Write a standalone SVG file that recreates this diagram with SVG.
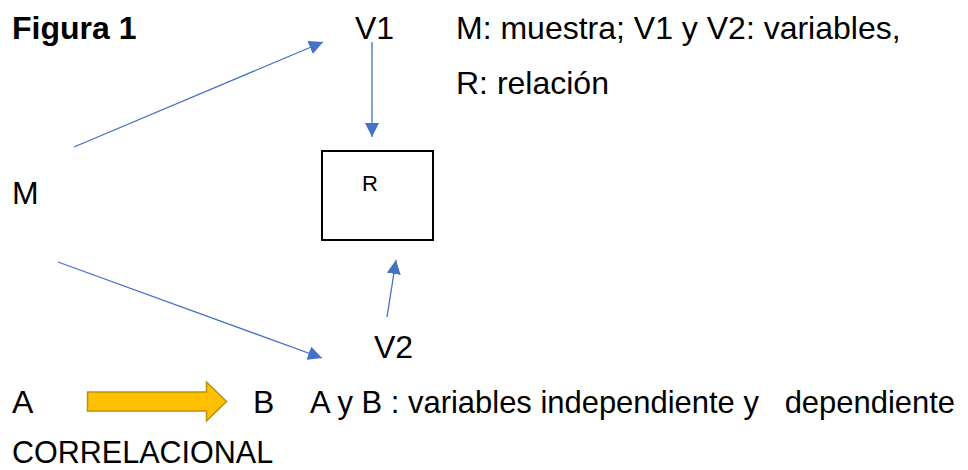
<svg xmlns="http://www.w3.org/2000/svg" width="968" height="470" viewBox="0 0 968 470">
<style>
.t{font-family:"Liberation Sans",Arial,sans-serif;font-size:32px;fill:#000}
.b{font-weight:bold}
.c{stroke:#4472C4;stroke-width:1.3;fill:none}
</style>
<defs>
<marker id="ah" viewBox="0 0 10 10" refX="10" refY="5" markerWidth="14" markerHeight="14" markerUnits="userSpaceOnUse" orient="auto">
<path d="M0,0 L10,5 L0,10 Z" fill="#4472C4"/>
</marker>
</defs>
<rect width="968" height="470" fill="#fff"/>
<g id="title"><text class="t b" x="12" y="39">Figura 1</text></g>
<g id="legend">
<text class="t" x="456" y="39">M: muestra; V1 y V2: variables,</text>
<text class="t" x="456" y="94">R: relación</text>
</g>
<g id="nodeV1"><text class="t" x="355" y="39">V1</text></g>
<g id="nodeM"><text class="t" x="12" y="204">M</text></g>
<g id="nodeR">
<rect x="322" y="151" width="111" height="89" fill="#fff" stroke="#000" stroke-width="2"/>
<text class="t" x="362" y="191" style="font-size:22px">R</text>
</g>
<g id="nodeV2"><text class="t" x="374" y="358">V2</text></g>
<g id="connectors">
<line class="c" x1="74" y1="147" x2="323" y2="42" marker-end="url(#ah)"/>
<line class="c" x1="372" y1="42" x2="372" y2="137" marker-end="url(#ah)"/>
<line class="c" x1="58" y1="262" x2="322" y2="358" marker-end="url(#ah)"/>
<line class="c" x1="387" y1="317" x2="396" y2="260" marker-end="url(#ah)"/>
</g>
<g id="bottom">
<text class="t" x="12" y="413">A</text>
<path d="M87.5,392 L206.5,392 L206.5,382 L226.5,401.5 L206.5,421 L206.5,411 L87.5,411 Z" fill="#FFC000" stroke="#BF9000" stroke-width="1.5"/>
<text class="t" x="253" y="413">B</text>
<text class="t" transform="translate(310,413) scale(0.967,1)" x="0" y="0" xml:space="preserve">A y B : variables independiente y   dependiente</text>
<text class="t" transform="translate(12,463) scale(0.954,1)" x="0" y="0">CORRELACIONAL</text>
</g>
</svg>
